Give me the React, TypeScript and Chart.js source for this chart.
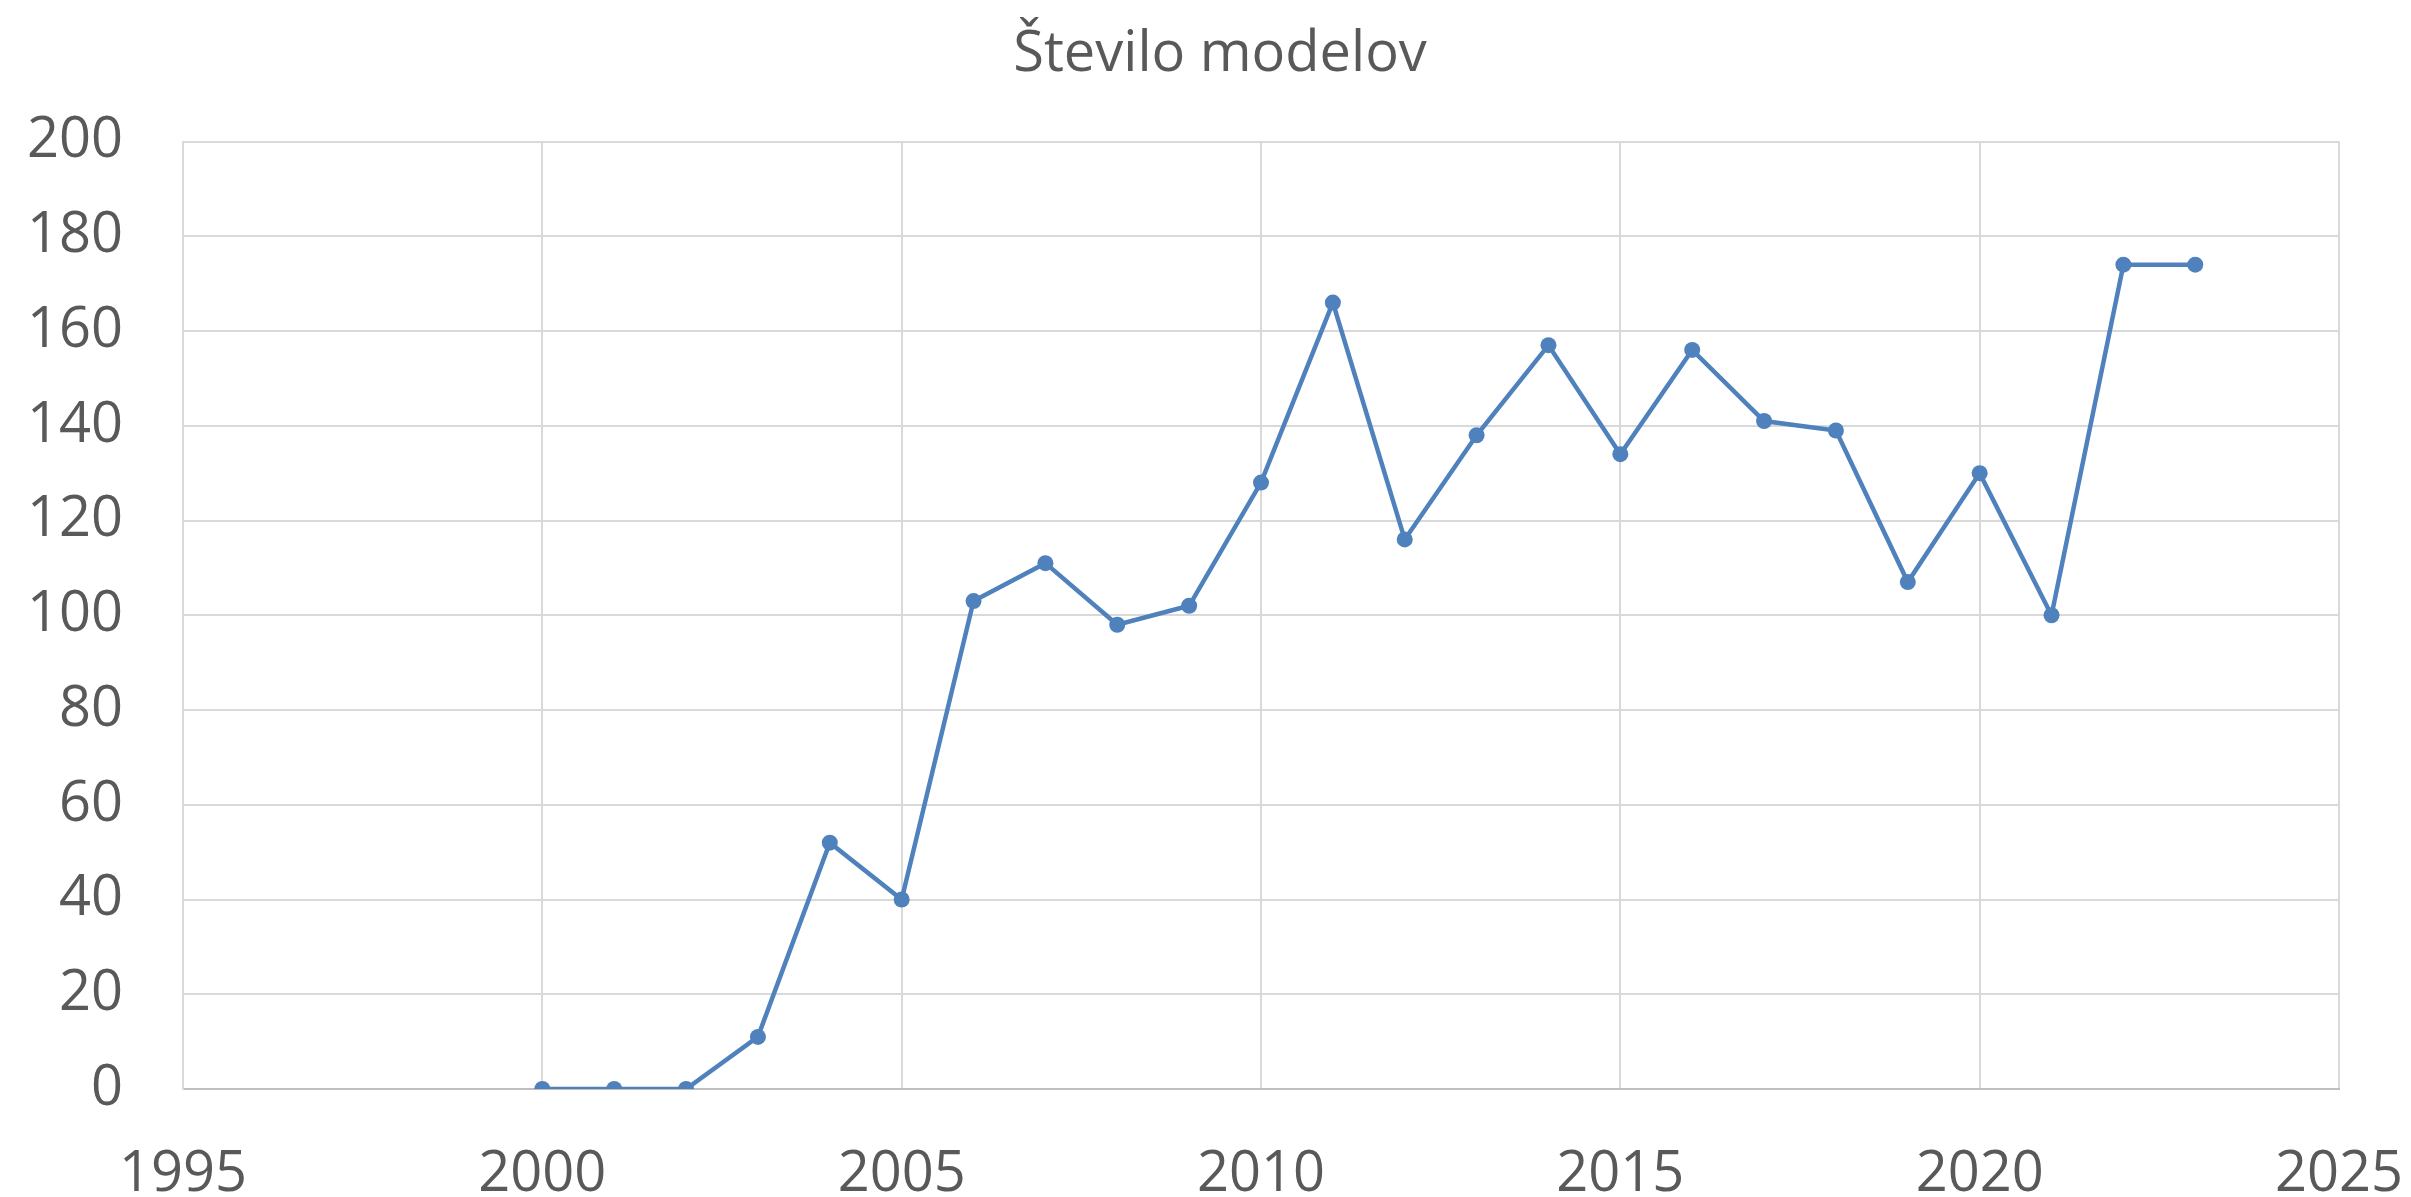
import React, { useEffect, useRef } from "react";
import { Chart, registerables } from "chart.js";

Chart.register(...registerables);

const years = [2000, 2001, 2002, 2003, 2004, 2005, 2006, 2007, 2008, 2009, 2010, 2011, 2012, 2013, 2014, 2015, 2016, 2017, 2018, 2019, 2020, 2021, 2022, 2023];
const models = [0, 0, 0, 11, 52, 40, 103, 111, 98, 102, 128, 166, 116, 138, 157, 134, 156, 141, 139, 107, 130, 100, 174, 174];
const title = "Število modelov";
const xMin = 1995;
const xMax = 2025;
const xStep = 5;
const yMin = 0;
const yMax = 200;
const yStep = 20;

const FONT = "'Open Sans', 'Noto Sans', sans-serif";
const TEXT = "#595959";
const GRID = "#d9d9d9";
const LINE = "#4f81bd";

const titlePlugin = {
  id: "customTitle",
  afterDraw(chart: any) {
    const ctx = chart.ctx;
    ctx.save();
    ctx.fillStyle = TEXT;
    ctx.font = `56px ${FONT}`;
    ctx.textAlign = "center";
    ctx.textBaseline = "middle";
    ctx.fillText(title, 1220, 55);
    ctx.restore();
  },
};

export default function App() {
  const ref = useRef<HTMLCanvasElement | null>(null);

  useEffect(() => {
    document.body.style.margin = "0";
    const canvas = ref.current;
    if (!canvas) return;
    const chart = new Chart(canvas, {
      type: "scatter",
      data: {
        datasets: [
          {
            label: title,
            data: years.map((y, i) => ({ x: y, y: models[i] })),
            showLine: true,
            borderColor: LINE,
            backgroundColor: LINE,
            borderWidth: 4.5,
            pointRadius: 8,
            pointHoverRadius: 8,
            pointBorderWidth: 0,
          },
        ],
      },
      options: {
        responsive: false,
        animation: false,
        layout: { padding: { left: 0, right: 72, top: 141.5, bottom: 0 } },
        plugins: {
          legend: { display: false },
          tooltip: { enabled: false },
          title: { display: false },
        },
        scales: {
          x: {
            type: "linear",
            min: xMin,
            max: xMax,
            ticks: {
              stepSize: xStep,
              color: TEXT,
              padding: 52,
              font: { family: FONT, size: 56 },
              callback: (v: any) => String(v),
              maxRotation: 0,
            },
            grid: { color: GRID, lineWidth: 2, drawTicks: false },
            border: { color: "#bfbfbf", width: 2 },
            afterFit: (s: any) => {
              s.height = 108;
              s.paddingLeft = 0;
              s.paddingRight = 0;
            },
          },
          y: {
            min: yMin,
            max: yMax,
            ticks: {
              stepSize: yStep,
              color: TEXT,
              padding: 60,
              font: { family: FONT, size: 56 },
            },
            grid: { color: GRID, lineWidth: 2, drawTicks: false },
            border: { color: GRID, width: 2 },
            afterFit: (s: any) => {
              s.width = 183;
              s.paddingTop = 0;
              s.paddingBottom = 0;
            },
          },
        },
      },
      plugins: [titlePlugin],
    });
    return () => chart.destroy();
  }, []);

  return (
    <div style={{ width: 2411, height: 1197, background: "#fff" }}>
      <canvas ref={ref} width={2411} height={1197} style={{ display: "block" }} />
    </div>
  );
}
